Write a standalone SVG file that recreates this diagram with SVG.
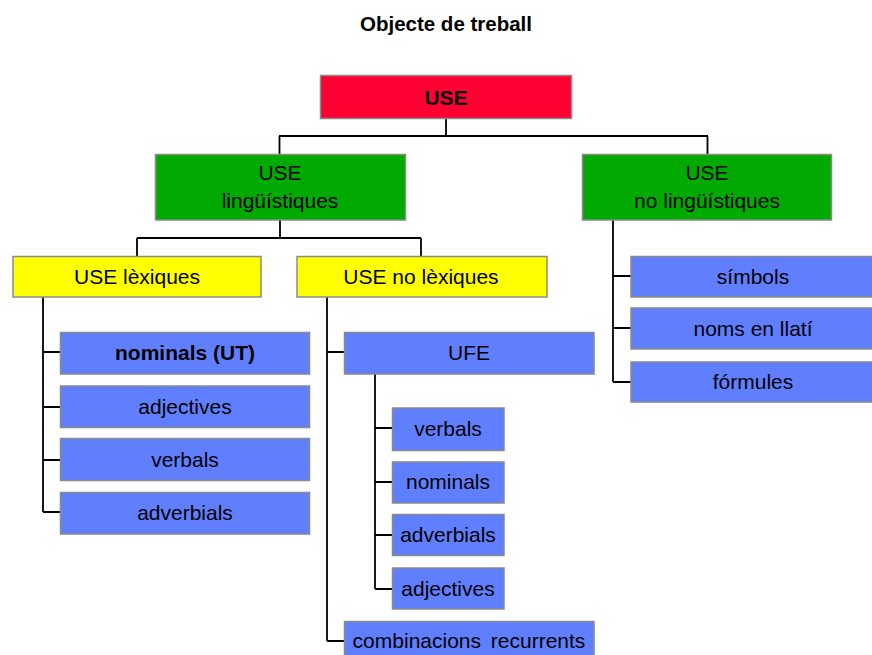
<svg xmlns="http://www.w3.org/2000/svg" width="872" height="655" viewBox="0 0 872 655">
<style>
.b{stroke:#8a8a8a;stroke-width:1.5}
.r{fill:#FF0033}.g{fill:#00AA00}.y{fill:#FFFF00}.u{fill:#5F7FFF}
text{font-family:"Liberation Sans",Arial,sans-serif;font-size:21px;fill:#000;text-anchor:middle}
.bold{font-weight:bold}
.c{fill:none;stroke:#000;stroke-width:1.8}
</style>
<rect width="872" height="655" fill="#fff"/>
<text class="bold" x="446" y="31" style="font-size:20.5px">Objecte de treball</text>
<g id="connectors" class="c">
<path d="M446 118V136M279 136H708M279.5 136V154M707.5 136V154"/>
<path d="M280 220V238M137 238H421M137 238V256M421 238V256"/>
<path d="M43 297V512M43 352H60M43 407H60M43 460H60M43 512H60"/>
<path d="M327 297V641M327 352H344M327 641H344"/>
<path d="M375 374V589M375 428H392M375 482H392M375 535H392M375 589H392"/>
<path d="M613 220V382M613 276H631M613 328H631M613 382H631"/>
</g>
<g id="n-use"><rect class="b r" x="320.5" y="75.5" width="251" height="43"/><text class="bold" x="446" y="104.5">USE</text></g>
<g id="n-ling"><rect class="b g" x="155.5" y="154.5" width="250" height="65.5"/><text x="280" y="180">USE</text><text x="280" y="207.5">lingüístiques</text></g>
<g id="n-noling"><rect class="b g" x="582.5" y="154.5" width="249" height="65.5"/><text x="707" y="180">USE</text><text x="707" y="207.5">no lingüístiques</text></g>
<g id="n-lex"><rect class="b y" x="13" y="256.5" width="248" height="40.5"/><text x="137" y="284">USE lèxiques</text></g>
<g id="n-nolex"><rect class="b y" x="297" y="256.5" width="250" height="40.5"/><text x="421" y="284">USE no lèxiques</text></g>
<g id="n-nominalsut"><rect class="b u" x="60.5" y="332.5" width="249" height="41.5"/><text class="bold" x="185" y="360">nominals (UT)</text></g>
<g id="n-adj1"><rect class="b u" x="60.5" y="386" width="249" height="41.5"/><text x="185" y="414">adjectives</text></g>
<g id="n-verb1"><rect class="b u" x="60.5" y="438.5" width="249" height="42"/><text x="185" y="467">verbals</text></g>
<g id="n-adv1"><rect class="b u" x="60.5" y="492.5" width="249" height="41.5"/><text x="185" y="520">adverbials</text></g>
<g id="n-ufe"><rect class="b u" x="344.5" y="332.5" width="249.5" height="41.5"/><text x="469" y="360">UFE</text></g>
<g id="n-verb2"><rect class="b u" x="392.5" y="408" width="111.5" height="42.5"/><text x="448" y="436">verbals</text></g>
<g id="n-nom2"><rect class="b u" x="392.5" y="462" width="111.5" height="41"/><text x="448" y="489">nominals</text></g>
<g id="n-adv2"><rect class="b u" x="392.5" y="514.5" width="111.5" height="41"/><text x="448" y="542">adverbials</text></g>
<g id="n-adj2"><rect class="b u" x="392.5" y="568" width="111.5" height="41"/><text x="448" y="596">adjectives</text></g>
<g id="n-comb"><rect class="b u" x="344.5" y="621.5" width="249.5" height="41"/><text x="469" y="648" word-spacing="4">combinacions recurrents</text></g>
<g id="n-simb"><rect class="b u" x="631" y="256.5" width="246" height="40.5"/><text x="753" y="284">símbols</text></g>
<g id="n-llati"><rect class="b u" x="631" y="308" width="246" height="41"/><text x="753" y="336">noms en llatí</text></g>
<g id="n-form"><rect class="b u" x="631" y="362" width="246" height="40"/><text x="753" y="389">fórmules</text></g>
</svg>
